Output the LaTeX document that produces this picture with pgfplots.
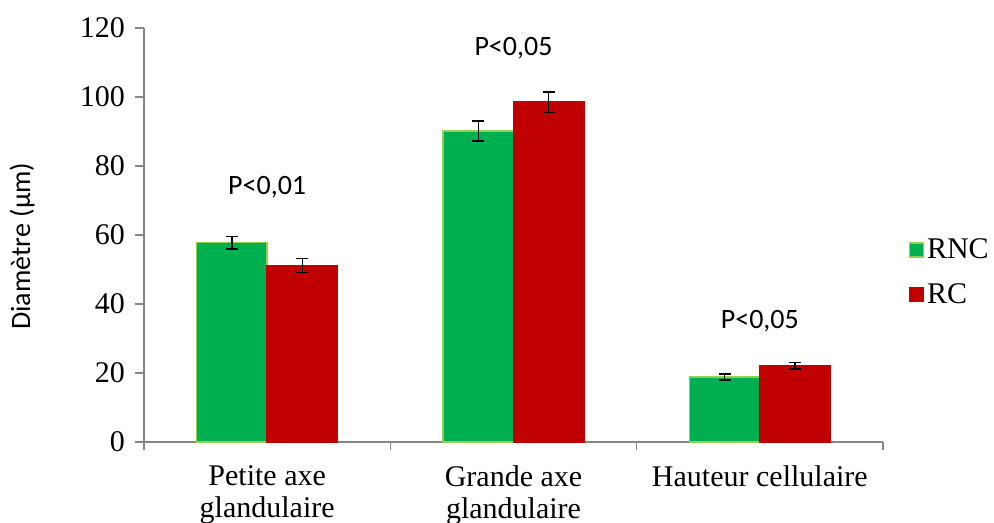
\documentclass[border=0pt]{standalone}
\usepackage{fontspec}
\setmainfont{Liberation Serif}
\newfontfamily\calib{Carlito}
\usepackage{pgfplots}
\usepackage{pgfplotstable}
\pgfplotsset{compat=1.18}
\definecolor{rnc}{HTML}{00B050}
\definecolor{rncb}{HTML}{92D050}
\definecolor{rc}{HTML}{C00000}
\definecolor{axgray}{HTML}{868686}

% x = category position (0,1,2) shifted by half a bar width
\pgfplotstableread{
x y e
-0.143 57.8 1.8
0.857 90.1 2.9
1.857 18.8 0.9
}\rnctab
\pgfplotstableread{
x y e
0.143 51.2 2.0
1.143 98.5 3.0
2.143 22.1 1.0
}\rctab

\pgfplotsset{sqleg/.style={legend image code/.code={\draw[##1, line width=0.75pt] (0pt,-3.5pt) rectangle (7pt,3.5pt);}}}

\begin{document}
\begin{tikzpicture}
\useasboundingbox (-72pt,-40.5pt) rectangle (425pt,221pt);
\begin{axis}[
  at={(0,0)}, anchor=south west,
  scale only axis, width=369.5pt, height=207pt,
  xmin=-0.5, xmax=2.5, ymin=0, ymax=120,
  axis x line=bottom, axis y line=left,
  axis line style={-, draw=axgray, line width=0.75pt},
  tick align=outside, major tick length=4.5pt, minor tick length=4pt,
  every tick/.style={draw=axgray, line width=0.75pt},
  ytick={0,20,...,120},
  xtick={0,1,2},
  xticklabels={Petite axe\\glandulaire, Grande axe\\glandulaire, Hauteur cellulaire},
  minor xtick={-0.5,0.5,1.5,2.5},
  major x tick style={draw=none},
  xticklabel style={align=center, font=\fontsize{15}{16}\selectfont, yshift=-4pt},
  yticklabel style={font=\fontsize{15}{18}\selectfont, xshift=-1.5pt},
  /pgf/number format/assume math mode=true,
  ylabel={Diamètre (µm)},
  ylabel style={at={(axis description cs:-0.165,0.473)}, anchor=center, font=\fontsize{14}{16}\calib},
  legend style={at={(axis description cs:1.034,0.41)}, anchor=west, draw=none, fill=none,
    font=\fontsize{15}{18}\selectfont, row sep=8pt, inner sep=0pt,
    nodes={inner sep=1.5pt}},
  legend cell align=left,
  clip=false,
]
\addplot[ybar, bar width=0.286, bar shift=0, fill=rnc, draw=rncb, line width=0.75pt, sqleg,
  error bars/.cd, y dir=both, y explicit,
  error bar style={black, line width=0.75pt},
  error mark options={black, rotate=90, mark size=3pt, line width=0.75pt}]
  table[x=x, y=y, y error=e] {\rnctab};
\addlegendentry{RNC}
\addplot[ybar, bar width=0.286, bar shift=0, fill=rc, draw=rc, line width=0.75pt, sqleg,
  error bars/.cd, y dir=both, y explicit,
  error bar style={black, line width=0.75pt},
  error mark options={black, rotate=90, mark size=3pt, line width=0.75pt}]
  table[x=x, y=y, y error=e] {\rctab};
\addlegendentry{RC}
\node[font=\fontsize{14}{16}\calib] at (axis cs:0,73.9) {P<0,01};
\node[font=\fontsize{14}{16}\calib] at (axis cs:1,114.2) {P<0,05};
\node[font=\fontsize{14}{16}\calib] at (axis cs:2,35.1) {P<0,05};
\end{axis}
\end{tikzpicture}
\end{document}
